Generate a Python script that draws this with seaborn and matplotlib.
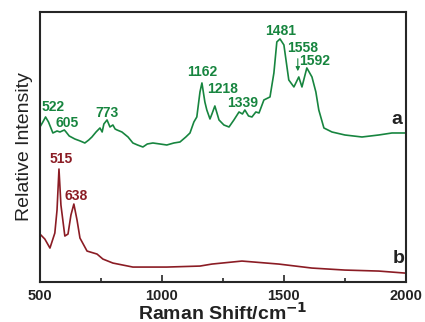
"""Raman spectra of two samples (a, b)."""

import numpy as np
import pandas as pd
import matplotlib
matplotlib.use("Agg")
import matplotlib.pyplot as plt
import seaborn as sns
from matplotlib.ticker import MultipleLocator

sns.set_style("ticks")
plt.rcParams["font.family"] = ["Liberation Sans", "DejaVu Sans"]

# Spectrum a (green)
shift_a = [500, 512, 523, 535, 553, 570, 582, 600, 607, 620, 643, 665, 684, 700,
           713, 730, 746, 755, 762, 775, 787, 799, 808, 816, 836, 861, 881, 900,
           922, 940, 963, 992, 1020, 1049, 1074, 1098, 1115, 1131, 1143, 1156,
           1164, 1176, 1184, 1197, 1205, 1217, 1234, 1254, 1275, 1295, 1316, 1330,
           1340, 1355, 1369, 1385, 1398, 1418, 1443, 1459, 1471, 1484, 1500, 1520,
           1541, 1561, 1574, 1594, 1615, 1631, 1643, 1664, 1697, 1750, 1820, 1889,
           1943, 1996]
inten_a = [155, 160, 165, 160, 149, 151, 150, 152, 150, 146, 143, 141, 139, 142,
           145, 150, 154, 150, 158, 162, 155, 157, 153, 152, 150, 145, 139, 137,
           135, 138, 139, 138, 137, 139, 140, 145, 149, 160, 165, 190,
           199, 180, 172, 163, 168, 176, 162, 157, 155, 162, 170, 168,
           172, 166, 165, 170, 169, 182, 185, 209, 240, 243, 237, 202,
           195, 205, 195, 214, 205, 190, 172, 154, 150, 147, 145, 147,
           149, 149]

# Spectrum b (dark red)
shift_b = [500, 520, 541, 561, 570, 578, 586, 602, 615, 627, 639, 652, 664, 693,
           734, 758, 799, 881, 1020, 1156, 1205, 1328, 1479, 1615, 1750, 1889, 1996]
inten_b = [48, 43, 34, 49, 72, 113, 77, 46, 48, 67, 78, 62, 44, 31,
           28, 23, 19, 15, 15, 16, 18, 21, 18, 14, 12, 11, 9]

# Peak labels
peaks_a = ["522", "605", "773", "1162", "1218", "1339", "1481", "1558", "1592"]
peaks_a_x = [553, 611, 775, 1164, 1250, 1332, 1488, 1578, 1627]
peaks_a_y = [175, 159, 169, 210, 193, 179, 251, 234, 221]
peaks_b = ["515", "638"]
peaks_b_x = [587, 648]
peaks_b_y = [123, 86]

green = "#17853f"
red = "#8b1c24"

df_a = pd.DataFrame({"shift": shift_a, "intensity": inten_a})
df_b = pd.DataFrame({"shift": shift_b, "intensity": inten_b})

fig = plt.figure(figsize=(4.25, 3.22), dpi=100)
ax = fig.add_axes([0.094, 0.124, 0.861, 0.839])

sns.lineplot(data=df_a, x="shift", y="intensity", color=green, lw=1.2, ax=ax)
sns.lineplot(data=df_b, x="shift", y="intensity", color=red, lw=1.2, ax=ax)

for t, x, y in zip(peaks_a, peaks_a_x, peaks_a_y):
    ax.text(x, y, t, color=green, fontsize=10, fontweight="bold", ha="center", va="center")
for t, x, y in zip(peaks_b, peaks_b_x, peaks_b_y):
    ax.text(x, y, t, color=red, fontsize=10, fontweight="bold", ha="center", va="center")

ax.annotate("", xy=(1557, 208), xytext=(1557, 226),
            arrowprops=dict(arrowstyle="-|>", color=green, lw=0.8, mutation_scale=6))

ax.text(1963, 162, "a", fontsize=14, fontweight="bold", ha="center", va="center", color="#222222")
ax.text(1971, 24, "b", fontsize=14, fontweight="bold", ha="center", va="center", color="#222222")

ax.set_xlim(500, 2000)
ax.set_ylim(0, 270)
ax.xaxis.set_major_locator(MultipleLocator(500))
ax.xaxis.set_minor_locator(MultipleLocator(250))
ax.set_yticks([])
ax.tick_params(axis="x", which="major", direction="in", length=5, width=1.2,
               labelsize=10.5, pad=5)
ax.tick_params(axis="x", which="minor", direction="in", length=3, width=1.2)
for lab in ax.get_xticklabels():
    lab.set_fontweight("bold")
    lab.set_color("#222222")
for sp in ax.spines.values():
    sp.set_linewidth(1.5)
    sp.set_visible(True)

ax.set_xlabel("Raman Shift/cm$^{\\mathbf{-1}}$", fontsize=14, fontweight="bold",
              color="#222222", labelpad=-1)
ax.set_ylabel("Relative Intensity", fontsize=14, color="#222222", labelpad=5)

plt.savefig("out.png", dpi=100)
